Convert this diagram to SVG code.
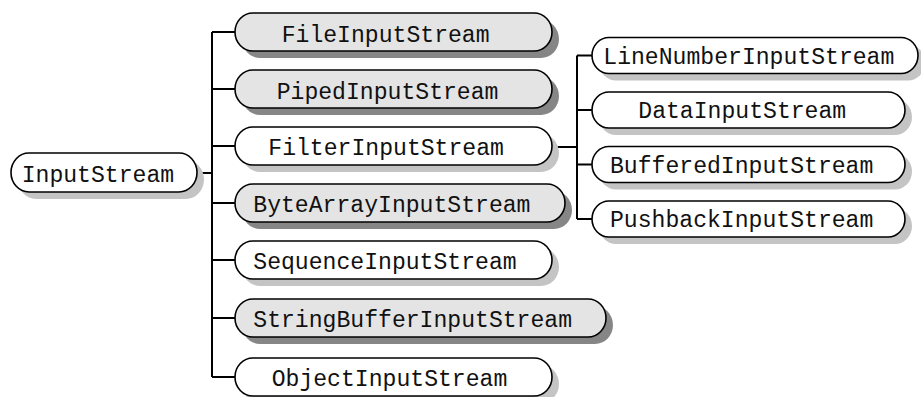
<svg xmlns="http://www.w3.org/2000/svg" width="921" height="397" viewBox="0 0 921 397">
<style>
.pill{stroke:#000;stroke-width:1.6}
.w{fill:#fff}
.g{fill:#e4e4e4}
.sw{fill:#c4c4c4}
.sg{fill:#868686}
text{font-family:"Liberation Mono","DejaVu Sans Mono",monospace;font-size:23.1px;fill:#111}
.conn{stroke:#000;stroke-width:2;fill:none}
</style>
<rect width="921" height="397" fill="#fff"/>
<g id="connectors">
<path class="conn" d="M197,173 H212 M212,32 V377 M212,32 H235 M212,89 H235 M212,146 H235 M212,203 H235 M212,260 H235 M212,318 H235 M212,377 H235"/>
<path class="conn" d="M552,147 H577 M577,55.5 V219 M577,55.5 H592 M577,110 H592 M577,164.5 H592 M577,219 H592"/>
</g>
<g id="InputStream">
<rect class="sw" x="18" y="160" width="186" height="39" rx="18" ry="19.5"/>
<rect class="pill w" x="11" y="153" width="186" height="39" rx="18" ry="19.5"/>
<text x="21.7" y="181.5">InputStream</text>
</g>
<g id="FileInputStream">
<rect class="sg" x="242" y="20" width="317" height="38" rx="18" ry="19"/>
<rect class="pill g" x="235" y="13" width="317" height="38" rx="18" ry="19"/>
<text x="281.7" y="41.5">FileInputStream</text>
</g>
<g id="PipedInputStream">
<rect class="sg" x="242" y="77" width="317" height="38" rx="18" ry="19"/>
<rect class="pill g" x="235" y="70" width="317" height="38" rx="18" ry="19"/>
<text x="276.7" y="98.5">PipedInputStream</text>
</g>
<g id="FilterInputStream">
<rect class="sw" x="242" y="134" width="317" height="38" rx="18" ry="19"/>
<rect class="pill w" x="235" y="127" width="317" height="38" rx="18" ry="19"/>
<text x="268.3" y="155">FilterInputStream</text>
</g>
<g id="ByteArrayInputStream">
<rect class="sg" x="242" y="191" width="330" height="38" rx="18" ry="19"/>
<rect class="pill g" x="235" y="184" width="330" height="38" rx="18" ry="19"/>
<text x="253.3" y="212">ByteArrayInputStream</text>
</g>
<g id="SequenceInputStream">
<rect class="sw" x="242" y="248" width="317" height="38" rx="18" ry="19"/>
<rect class="pill w" x="235" y="241" width="317" height="38" rx="18" ry="19"/>
<text x="253.3" y="269">SequenceInputStream</text>
</g>
<g id="StringBufferInputStream">
<rect class="sg" x="242" y="306" width="371" height="38" rx="18" ry="19"/>
<rect class="pill g" x="235" y="299" width="371" height="38" rx="18" ry="19"/>
<text x="253.3" y="327">StringBufferInputStream</text>
</g>
<g id="ObjectInputStream">
<rect class="sw" x="242" y="365" width="317" height="38" rx="18" ry="19"/>
<rect class="pill w" x="235" y="358" width="317" height="38" rx="18" ry="19"/>
<text x="271.7" y="386">ObjectInputStream</text>
</g>
<g id="LineNumberInputStream">
<rect class="sw" x="599" y="44.5" width="326" height="36" rx="17" ry="18"/>
<rect class="pill w" x="592" y="37.5" width="326" height="36" rx="17" ry="18"/>
<text x="603.3" y="63.8">LineNumberInputStream</text>
</g>
<g id="DataInputStream">
<rect class="sw" x="599" y="99" width="313" height="36" rx="17" ry="18"/>
<rect class="pill w" x="592" y="92" width="313" height="36" rx="17" ry="18"/>
<text x="638.3" y="118.3">DataInputStream</text>
</g>
<g id="BufferedInputStream">
<rect class="sw" x="599" y="153.5" width="313" height="36" rx="17" ry="18"/>
<rect class="pill w" x="592" y="146.5" width="313" height="36" rx="17" ry="18"/>
<text x="610" y="172.8">BufferedInputStream</text>
</g>
<g id="PushbackInputStream">
<rect class="sw" x="599" y="208" width="313" height="36" rx="17" ry="18"/>
<rect class="pill w" x="592" y="201" width="313" height="36" rx="17" ry="18"/>
<text x="610" y="227.3">PushbackInputStream</text>
</g>
</svg>
